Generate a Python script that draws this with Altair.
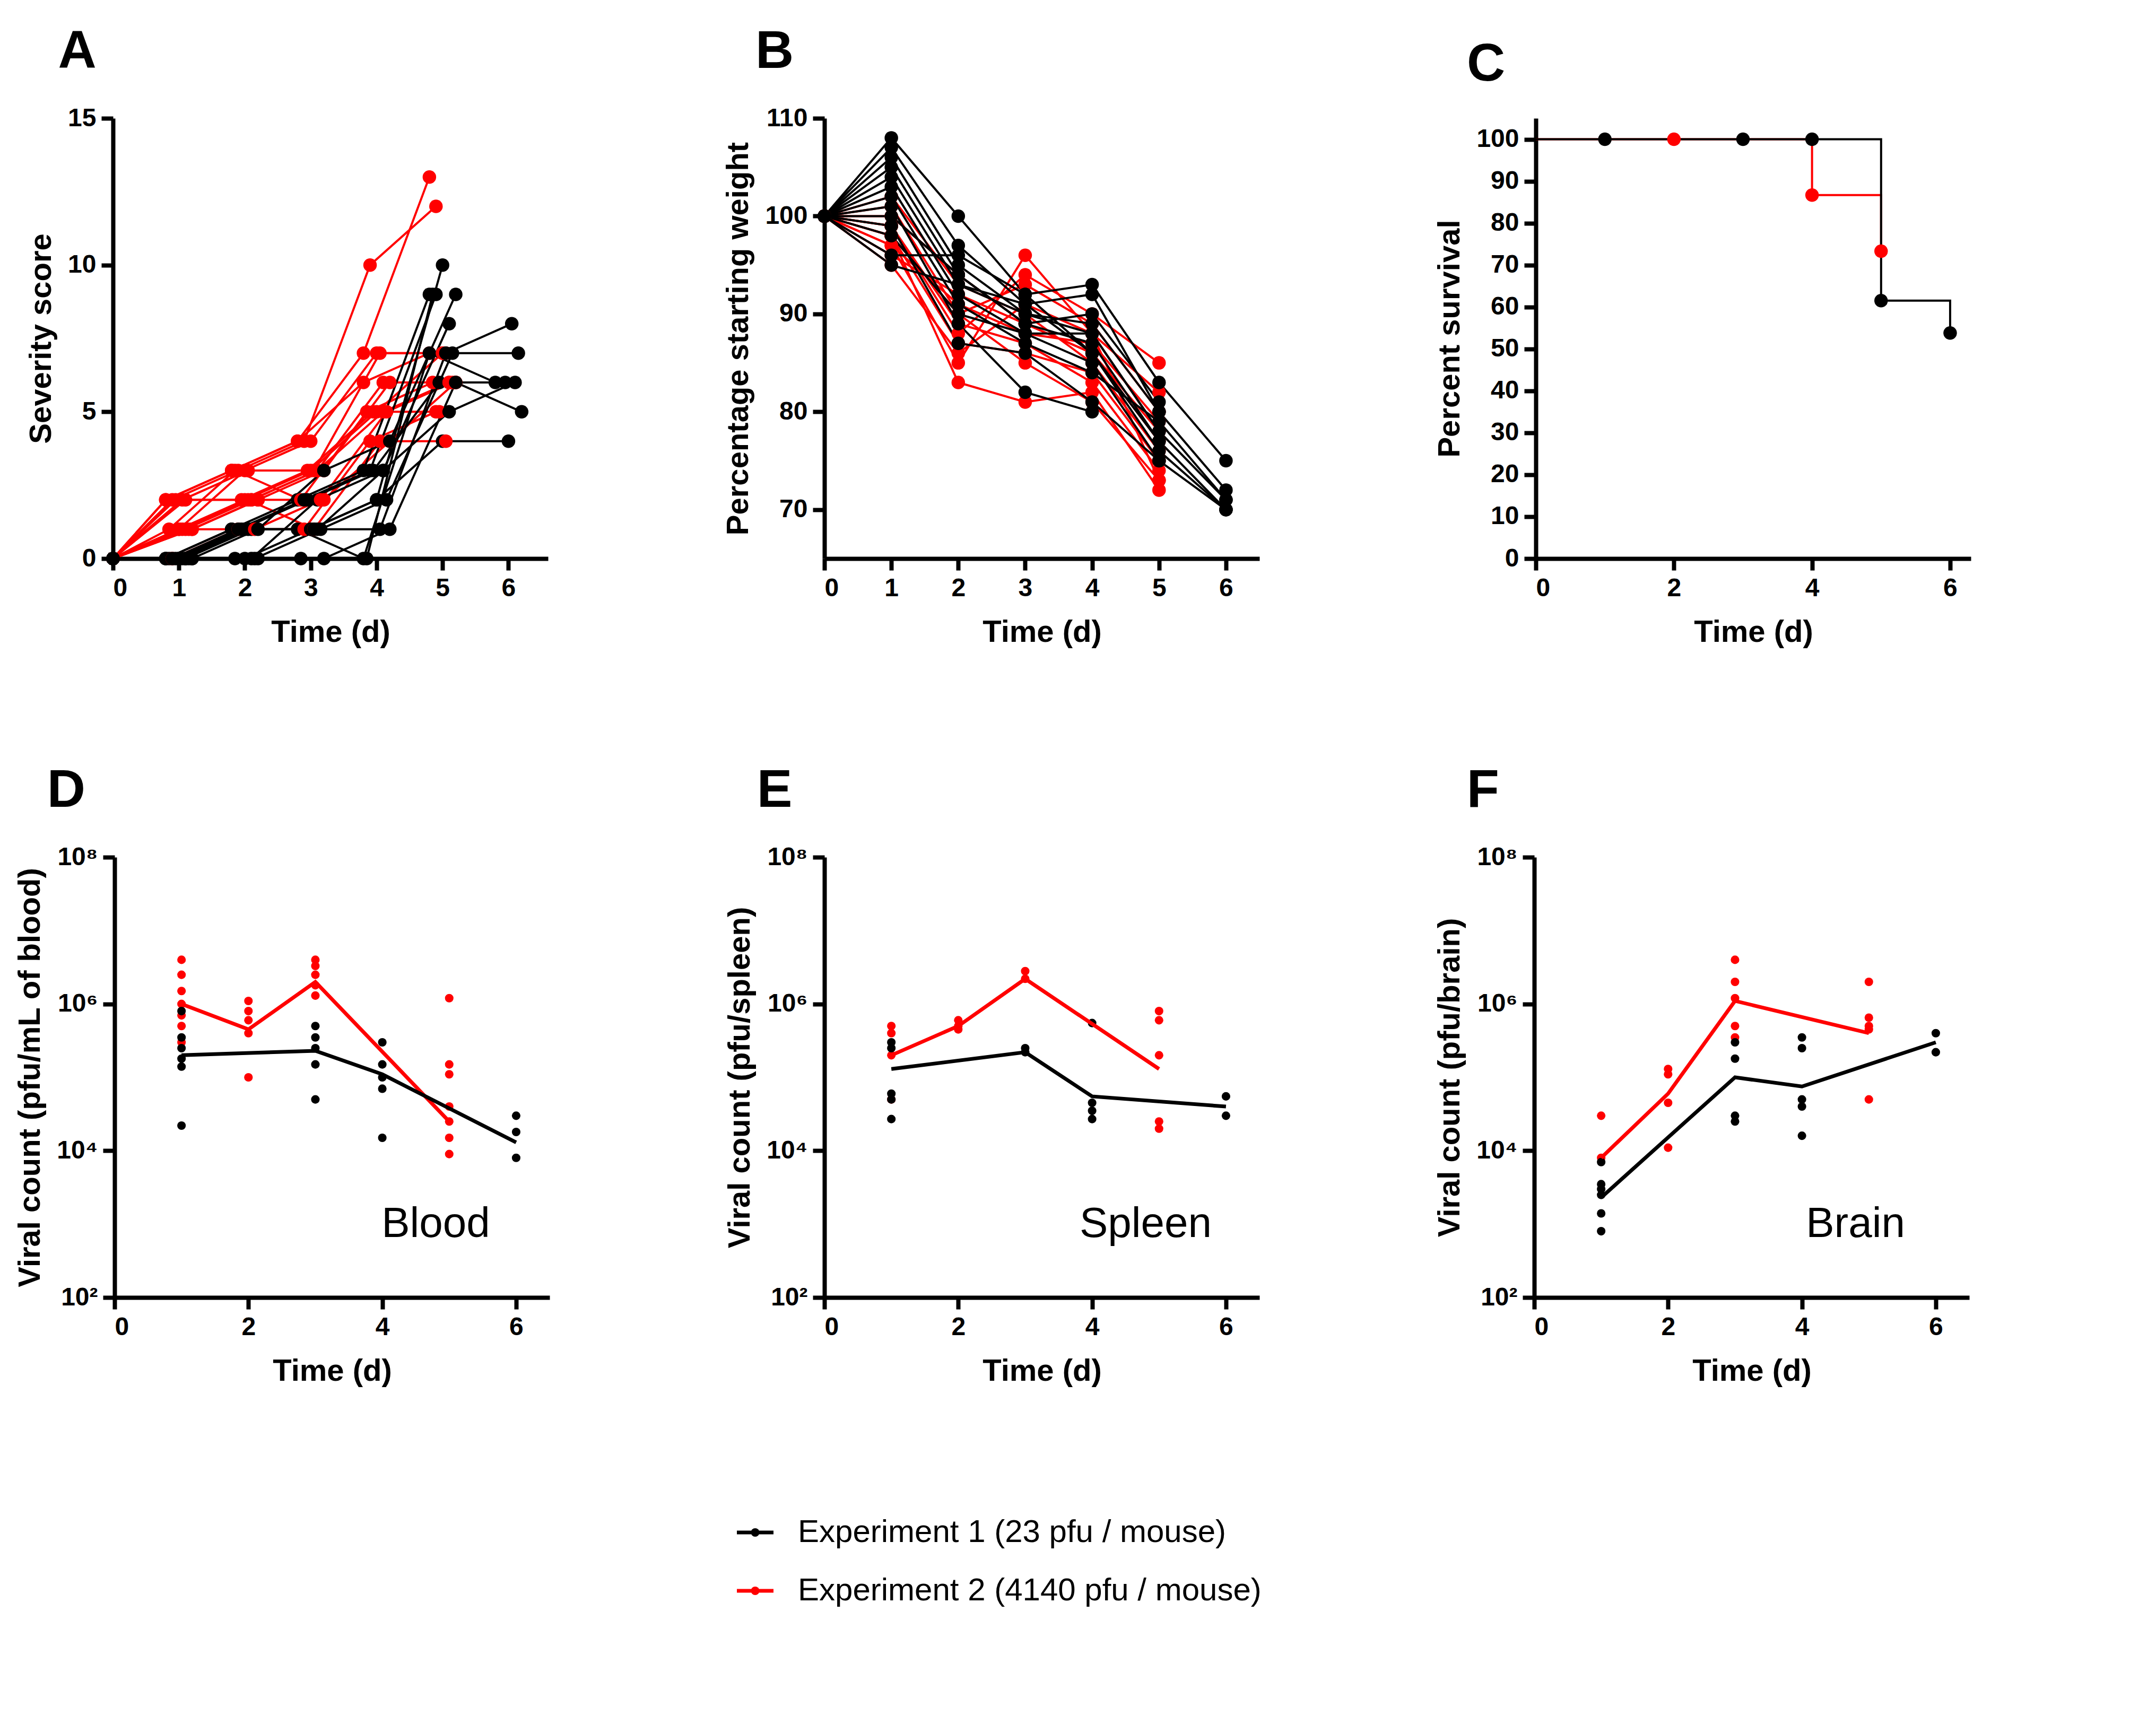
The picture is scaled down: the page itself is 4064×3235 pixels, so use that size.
import pandas as pd
import altair as alt

FONT = "Liberation Sans"
RED = "#ff0000"
BLACK = "#000000"

# ---- A: severity score per mouse (days 0..6) ----
sev_black = [
    [0, 0, 1, 2, 3, 9], [0, 0, 1, 2, 3, 9], [0, 0, 0, 1, 2, 10], [0, 0, 1, 1, 3, 8],
    [0, 0, 1, 3, 4, 9], [0, 0, 0, 0, 0, 9], [0, 0, 1, 1, 1, 7, 8], [0, 0, 0, 1, 2, 7, 7],
    [0, 0, 1, 2, 3, 6, 6], [0, 0, 0, 0, 1, 6, 5], [0, 0, 1, 1, 2, 4, 4], [0, 0, 0, 2, 3, 5, 6],
    [0, 0, 1, 1, 0, 7, 6],
]
jit_black = [-0.2, -0.1, 0.0, 0.1, 0.2, -0.15, 0.05, 0.15, -0.05, 0.2, 0.0, 0.1, -0.2]
sev_red = [
    [0, 2, 3, 4, 7, 13], [0, 2, 3, 4, 10, 12], [0, 1, 3, 4, 7, 7], [0, 2, 2, 3, 6, 6],
    [0, 1, 2, 3, 6, 6], [0, 1, 3, 2, 5, 6], [0, 2, 2, 3, 5, 5], [0, 1, 2, 1, 4, 4],
    [0, 1, 1, 2, 5, 6], [0, 2, 3, 4, 6, 7], [0, 1, 2, 3, 5, 7], [0, 1, 2, 2, 4, 6],
    [0, 0, 1, 1, 4, 5], [0, 1, 2, 3, 5, 6], [0, 2, 3, 3, 7, 7],
]
jit_red = [-0.2, -0.1, 0.0, 0.1, 0.2, -0.15, -0.05, 0.05, 0.15, -0.2, 0.0, 0.2, -0.1, 0.1, 0.05]

# ---- B: percentage starting weight ----
wt_black = [
    [100, 108, 100, 92, 93, 83, 75], [100, 107, 97, 91, 92, 80, 72], [100, 106, 95, 90, 88, 78, 71],
    [100, 105, 94, 89, 87, 77, 70], [100, 104, 93, 91, 86, 76, 70], [100, 103, 92, 88, 85, 75, 70],
    [100, 102, 91, 87, 84, 79, 71], [100, 101, 89, 82, 80], [100, 99, 87, 86, 81, 75],
    [100, 98, 90, 88, 88, 78], [100, 95, 93, 90, 89, 80], [100, 96, 96, 92, 86, 77],
    [100, 100, 94, 89, 90, 81],
]
wt_red = [
    [100, 98, 83, 81, 82, 72], [100, 97, 85, 96, 88, 73], [100, 99, 88, 94, 90, 85],
    [100, 101, 90, 93, 89, 80], [100, 96, 92, 89, 86, 78], [100, 98, 87, 86, 84, 75],
    [100, 97, 91, 88, 87, 79], [100, 102, 93, 90, 85, 76], [100, 99, 89, 87, 83, 74],
    [100, 95, 86, 91, 88, 82], [100, 100, 94, 89, 86, 77], [100, 98, 90, 85, 81, 73],
]

# ---- C: survival ----
surv_black_day = [0, 1, 3, 4, 5, 6]
surv_black_pct = [100, 100, 100, 100, 61.5, 53.8]
surv_red_day = [0, 2, 4, 5]
surv_red_pct = [100, 100, 86.7, 73.3]

# ---- D-F: viral counts (points per day) and mean lines ----
blood_red = {1: [4e6, 2.5e6, 1.5e6, 1e6, 7e5, 5e5, 3e5], 2: [1.1e6, 8e5, 6e5, 4e5, 1e5],
             3: [4e6, 3.3e6, 2.5e6, 1.8e6, 1.3e6], 5: [1.2e6, 1.5e5, 1.1e5, 4e4, 2.5e4, 1.5e4, 9e3]}
blood_black = {1: [8e5, 3.5e5, 2.5e5, 1.8e5, 1.4e5, 2.2e4], 3: [5e5, 3.5e5, 2.5e5, 1.5e5, 5e4],
               4: [3e5, 1.5e5, 1e5, 7e4, 1.5e4], 6: [3e4, 1.8e4, 8e3]}
blood_red_mean = [(1, 1e6), (2, 4.5e5), (3, 2e6), (5, 2.5e4)]
blood_black_mean = [(1, 2e5), (3, 2.3e5), (4, 1.1e5), (6, 1.3e4)]

spleen_red = {1: [5e5, 4e5, 2e5, 5e4], 2: [6e5, 5e5, 4.5e5], 3: [2.8e6, 2.2e6],
              5: [8e5, 6e5, 2e5, 2.5e4, 2e4]}
spleen_black = {1: [3e5, 2.5e5, 6e4, 5e4, 2.7e4], 3: [2.5e5, 2.2e5], 4: [5.5e5, 4.5e4, 3.5e4, 2.7e4],
                6: [5.5e4, 3e4]}
spleen_red_mean = [(1, 2e5), (2, 5e5), (3, 2.2e6), (5, 1.3e5)]
spleen_black_mean = [(1, 1.3e5), (3, 2.2e5), (4, 5.5e4), (6, 4e4)]

brain_red = {1: [3e4, 8e3], 2: [1.3e5, 1.1e5, 4.5e4, 1.1e4], 3: [4e6, 2e6, 1.2e6, 5e5, 3.5e5],
             5: [2e6, 6.5e5, 5e5, 4.5e5, 5e4]}
brain_black = {1: [7e3, 3.5e3, 3e3, 2.5e3, 1.4e3, 8e2], 3: [3e5, 1.8e5, 3e4, 2.5e4],
               4: [3.5e5, 2.5e5, 5e4, 4e4, 1.6e4], 6: [4e5, 2.2e5]}
brain_red_mean = [(1, 8e3), (2, 6e4), (3, 1.1e6), (5, 4e5)]
brain_black_mean = [(1, 2.3e3), (3, 1e5), (4, 7.5e4), (6, 3e5)]

legend_labels = ["Experiment 1 (23 pfu / mouse)", "Experiment 2 (4140 pfu / mouse)"]

W, H = 820, 830
color_scale = alt.Scale(domain=["Exp1", "Exp2"], range=[BLACK, RED])
col = alt.Color("exp:N", scale=color_scale, legend=None)


def series_df(rows_black, jit_b, rows_red, jit_r, field):
    recs = []
    for exp, rows, jit in (("Exp2", rows_red, jit_r), ("Exp1", rows_black, jit_b)):
        for i, row in enumerate(rows):
            for d, v in enumerate(row):
                recs.append({"exp": exp, "mouse": f"{exp}_{i}", "day": d + (jit[i] if d else 0), field: v})
    return pd.DataFrame(recs)


def titled(chart, letter):
    return chart.properties(
        width=W, height=H,
        title=alt.TitleParams(letter, anchor="start", fontSize=100, font=FONT, fontWeight="bold",
                              offset=50, dx=60))


xaxis = lambda vals: alt.Axis(values=vals, title="Time (d)")

# A
dfa = series_df(sev_black, jit_black, sev_red, jit_red, "score")
base_a = alt.Chart(dfa).encode(
    x=alt.X("day:Q", scale=alt.Scale(domain=[0, 6.6], nice=False), axis=xaxis([0, 1, 2, 3, 4, 5, 6])),
    y=alt.Y("score:Q", scale=alt.Scale(domain=[0, 15]), axis=alt.Axis(values=[0, 5, 10, 15], title="Severity score")),
    color=col, detail="mouse:N", order=alt.Order("day:Q"))
chart_a = titled(base_a.mark_line(strokeWidth=4) + base_a.mark_circle(size=650, opacity=1), "A")

# B
dfb = series_df(wt_black, [0] * 13, wt_red, [0] * 12, "weight")
base_b = alt.Chart(dfb).encode(
    x=alt.X("day:Q", scale=alt.Scale(domain=[0, 6.5], nice=False), axis=xaxis([0, 1, 2, 3, 4, 5, 6])),
    y=alt.Y("weight:Q", scale=alt.Scale(domain=[65, 110], nice=False),
            axis=alt.Axis(values=[70, 80, 90, 100, 110], title="Percentage starting weight")),
    color=col, detail="mouse:N", order=alt.Order("day:Q"))
chart_b = titled(base_b.mark_line(strokeWidth=4) + base_b.mark_circle(size=650, opacity=1), "B")

# C
dfc = pd.DataFrame(
    [{"exp": "Exp2", "day": d, "pct": p} for d, p in zip(surv_red_day, surv_red_pct)] +
    [{"exp": "Exp1", "day": d, "pct": p} for d, p in zip(surv_black_day, surv_black_pct)])
base_c = alt.Chart(dfc).encode(
    x=alt.X("day:Q", scale=alt.Scale(domain=[0, 6.3], nice=False), axis=xaxis([0, 2, 4, 6])),
    y=alt.Y("pct:Q", scale=alt.Scale(domain=[0, 105], nice=False),
            axis=alt.Axis(values=list(range(0, 101, 10)), title="Percent survival")),
    color=col, order=alt.Order("day:Q"))
chart_c = titled(base_c.mark_line(interpolate="step-after", strokeWidth=4) +
                 base_c.transform_filter("datum.day > 0").mark_circle(size=650, opacity=1), "C")


# D-F
def viral(red_pts, black_pts, red_mean, black_mean, title, label, letter):
    pts = [{"exp": "Exp2", "day": d, "v": v} for d, vs in red_pts.items() for v in vs] + \
          [{"exp": "Exp1", "day": d, "v": v} for d, vs in black_pts.items() for v in vs]
    means = [{"exp": "Exp2", "day": d, "v": v} for d, v in red_mean] + \
            [{"exp": "Exp1", "day": d, "v": v} for d, v in black_mean]
    x = alt.X("day:Q", scale=alt.Scale(domain=[0, 6.5], nice=False), axis=xaxis([0, 2, 4, 6]))
    y = alt.Y("v:Q", scale=alt.Scale(type="log", domain=[100, 1e8], nice=False),
              axis=alt.Axis(values=[100, 1e4, 1e6, 1e8], title=title,
                            labelExpr="datum.value == 100 ? '10²' : datum.value == 10000 ? '10⁴' : datum.value == 1000000 ? '10⁶' : '10⁸'"))
    p = alt.Chart(pd.DataFrame(pts)).mark_circle(size=260, opacity=1).encode(x=x, y=y, color=col)
    m = alt.Chart(pd.DataFrame(means)).mark_line(strokeWidth=7).encode(x=x, y=y, color=col, order="day:Q")
    t = alt.Chart(pd.DataFrame({"day": [4.8], "v": [1000], "txt": [label]})).mark_text(
        fontSize=80, font=FONT, fontWeight="normal", align="center", baseline="middle", color=BLACK
    ).encode(x=x, y=y, text="txt:N")
    return titled(p + m + t, letter)


chart_d = viral(blood_red, blood_black, blood_red_mean, blood_black_mean, "Viral count (pfu/mL of blood)", "Blood", "D")
chart_e = viral(spleen_red, spleen_black, spleen_red_mean, spleen_black_mean, "Viral count (pfu/spleen)", "Spleen", "E")
chart_f = viral(brain_red, brain_black, brain_red_mean, brain_black_mean, "Viral count (pfu/brain)", "Brain", "F")

# Legend
dfl = pd.DataFrame({"exp": ["Exp1", "Exp2"], "label": legend_labels, "row": [0, 1]})
lx = alt.Scale(domain=[0, 10], nice=False)
ly = alt.Y("row:O", axis=None)
leg_line = alt.Chart(dfl).mark_rule(strokeWidth=7).encode(
    x=alt.X("a:Q", scale=lx, axis=None), x2="b:Q", y=ly, color=col
).transform_calculate(a="0", b="0.6")
leg_pt = alt.Chart(dfl).mark_circle(size=260, opacity=1).encode(
    x=alt.X("a:Q", scale=lx, axis=None), y=ly, color=col).transform_calculate(a="0.3")
leg_txt = alt.Chart(dfl).mark_text(fontSize=60, font=FONT, align="left", color=BLACK).encode(
    x=alt.X("a:Q", scale=lx, axis=None), y=ly, text="label:N").transform_calculate(a="1.0")
legend = (leg_line + leg_pt + leg_txt).properties(width=1150, height=220)

top = alt.hconcat(chart_a, chart_b, chart_c, spacing=330)
bottom = alt.hconcat(chart_d, chart_e, chart_f, spacing=330)
chart = alt.vconcat(top, bottom, legend, spacing=220, center=True).properties(
    background="white", padding={"left": 20, "top": 40, "right": 20, "bottom": 20}
).configure_view(
    stroke=None
).configure_axis(
    labelFont=FONT, titleFont=FONT, labelFontSize=48, titleFontSize=58, labelFontWeight="bold",
    titleFontWeight="bold", labelColor=BLACK, titleColor=BLACK, domainColor=BLACK, tickColor=BLACK,
    domainWidth=8, tickWidth=8, tickSize=22, grid=False, labelPadding=10, titlePadding=20
).configure_axisX(titlePadding=30)

chart.save("out.html", embed_options={"renderer": "svg", "actions": False})
